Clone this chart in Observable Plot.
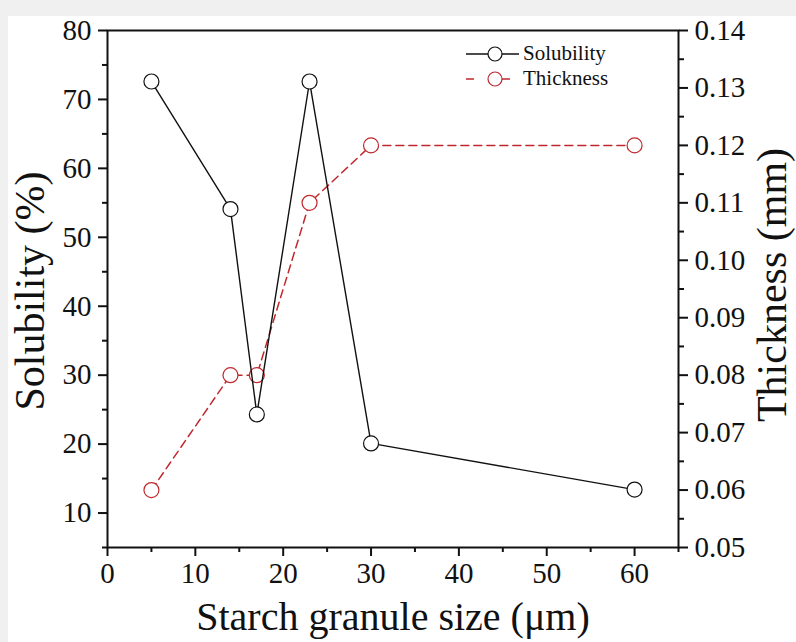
<!DOCTYPE html>
<html>
<head>
<meta charset="utf-8">
<script src="https://cdn.jsdelivr.net/npm/d3@7"></script>
<script src="https://cdn.jsdelivr.net/npm/@observablehq/plot@0.6"></script>
<style>
  html, body { margin: 0; padding: 0; background: #f0f0f0; width: 796px; height: 642px; overflow: hidden; }
  #paper { position: absolute; left: 8px; top: 16px; width: 788px; height: 626px; background: #fff; }
  #wrap { position: absolute; left: 0; top: 0; width: 796px; height: 642px; }
  #legend { position: absolute; left: 463px; top: 41px; font-family: "Liberation Serif", serif; font-size: 21px; color: #111; }
  #legend .row { display: flex; align-items: center; height: 25px; }
  #legend svg { margin-right: 4px; }
</style>
</head>
<body>
<div id="paper"></div>
<div id="wrap"></div>
<script>
// ---- data ----
const sizes = [5, 14, 17, 23, 30, 60];                 // Starch granule size (µm)
const solubility = [72.6, 54.1, 24.3, 72.6, 20.1, 13.4]; // %
const thickness = [0.06, 0.08, 0.08, 0.11, 0.12, 0.12];  // mm
const xTicks = [0, 10, 20, 30, 40, 50, 60];
const xMinor = [5, 15, 25, 35, 45, 55, 65];
const yTicks = [10, 20, 30, 40, 50, 60, 70, 80];
const yMinor = [5, 15, 25, 35, 45, 55, 65, 75];
const y2Ticks = [0.05, 0.06, 0.07, 0.08, 0.09, 0.10, 0.11, 0.12, 0.13, 0.14];
const y2Minor = [0.055, 0.065, 0.075, 0.085, 0.095, 0.105, 0.115, 0.125, 0.135];
const seriesNames = ["Solubility", "Thickness"];
const seriesColors = ["#111111", "#c0282d"];

// ---- scales ----
const yDomain = [5, 80];
const y2Domain = [0.05, 0.14];
const toLeft = t => yDomain[0] + (t - y2Domain[0]) * (yDomain[1] - yDomain[0]) / (y2Domain[1] - y2Domain[0]);
const toRight = v => y2Domain[0] + (v - yDomain[0]) * (y2Domain[1] - y2Domain[0]) / (yDomain[1] - yDomain[0]);

const solData = sizes.map((x, i) => ({x, y: solubility[i]}));
const thkData = sizes.map((x, i) => ({x, y: toLeft(thickness[i])}));

const chart = Plot.plot({
  width: 796,
  height: 642,
  marginLeft: 107,
  marginRight: 118,
  marginTop: 30,
  marginBottom: 95,
  style: {fontFamily: "Liberation Serif, serif", fontSize: "29px", color: "#111", background: "transparent"},
  x: {domain: [0, 65]},
  y: {domain: yDomain},
  marks: [
    // ticks
    Plot.axisX({ticks: xTicks, tickSize: 9, tickPadding: 6, strokeWidth: 2, label: null, fontSize: 29}),
    Plot.axisX({ticks: xMinor, tickSize: 5, tickFormat: () => "", strokeWidth: 2, label: null}),
    Plot.axisY({ticks: yTicks, anchor: "left", tickSize: 9, tickPadding: 7, strokeWidth: 2, label: null, fontSize: 29}),
    Plot.axisY({ticks: yMinor, anchor: "left", tickSize: 5, tickFormat: () => "", strokeWidth: 2, label: null}),
    Plot.axisY({ticks: y2Ticks.map(toLeft), anchor: "right", tickSize: 9, tickPadding: 7, strokeWidth: 2, label: null, fontSize: 29,
      tickFormat: v => toRight(v).toFixed(2)}),
    Plot.axisY({ticks: y2Minor.map(toLeft), anchor: "right", tickSize: 5, tickFormat: () => "", strokeWidth: 2, label: null}),
    Plot.frame({stroke: "#111", strokeWidth: 2}),
    // thickness series
    Plot.line(thkData, {x: "x", y: "y", stroke: seriesColors[1], strokeWidth: 1.5, strokeDasharray: "8,5"}),
    Plot.dot(thkData, {x: "x", y: "y", r: 7.5, stroke: seriesColors[1], fill: "white", strokeWidth: 1.2}),
    // solubility series
    Plot.line(solData, {x: "x", y: "y", stroke: seriesColors[0], strokeWidth: 1.4}),
    Plot.dot(solData, {x: "x", y: "y", r: 7.5, stroke: seriesColors[0], fill: "white", strokeWidth: 1.2}),
    // axis titles
    Plot.text(["Starch granule size (μm)"], {frameAnchor: "bottom", textAnchor: "middle", dy: 82, fontSize: 40, fill: "#111"}),
    Plot.text(["Solubility (%)"], {frameAnchor: "left", textAnchor: "middle", dx: -77, dy: 2, rotate: -90, fontSize: 42, fill: "#111"}),
    Plot.text(["Thickness (mm)"], {frameAnchor: "right", textAnchor: "middle", dx: 94, dy: -4, rotate: -90, fontSize: 42, fill: "#111"})
  ]
});
const wrap = document.getElementById("wrap");
wrap.appendChild(chart);

// legend
const legend = document.createElement("div");
legend.id = "legend";
seriesNames.forEach((name, i) => {
  const row = document.createElement("div");
  row.className = "row";
  const dash = i === 1 ? 'stroke-dasharray="8,28"' : '';
  row.innerHTML = `<svg width="56" height="20"><line x1="3" y1="10" x2="56" y2="10" stroke="${seriesColors[i]}" stroke-width="1.5" ${dash}/><circle cx="32" cy="10" r="7" fill="white" stroke="${seriesColors[i]}" stroke-width="1.2"/></svg><span>${name}</span>`;
  legend.appendChild(row);
});
wrap.appendChild(legend);
</script>
</body>
</html>
